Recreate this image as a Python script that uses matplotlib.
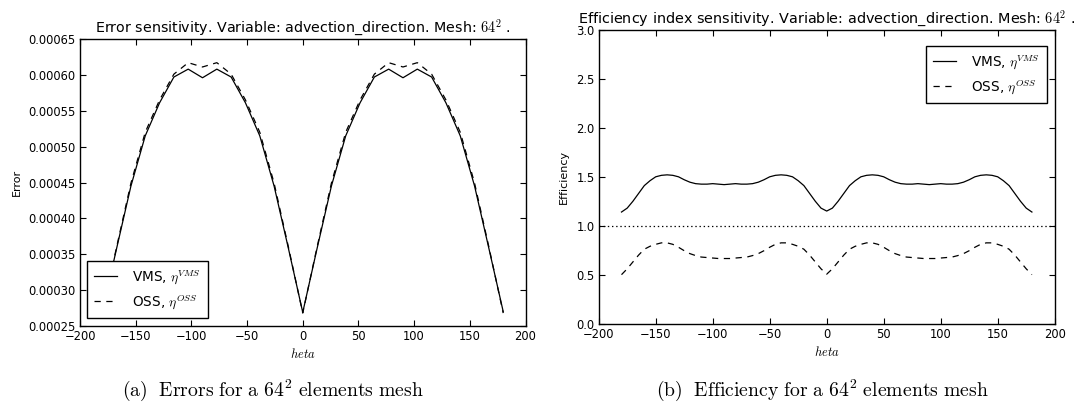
import matplotlib
matplotlib.use("Agg")
import matplotlib.pyplot as plt
from matplotlib.ticker import FormatStrFormatter, MultipleLocator

plt.rcParams['font.family'] = ['DejaVu Sans']
plt.rcParams['mathtext.fontset'] = 'cm'
plt.rcParams['lines.scale_dashes'] = False

# ---------------- data ----------------
# Error plot: 29 angles, step 360/28 degrees
theta_err = [-180.0 + k * 360.0 / 28.0 for k in range(29)]
err_vms = [0.000270, 0.000358, 0.000445, 0.000515, 0.000561, 0.000597, 0.000608, 0.000596,
           0.000608, 0.000597, 0.000561, 0.000515, 0.000445, 0.000358, 0.000269,
           0.000358, 0.000445, 0.000515, 0.000561, 0.000597, 0.000608, 0.000596,
           0.000608, 0.000597, 0.000561, 0.000515, 0.000445, 0.000358, 0.000270]
err_oss = [0.000268, 0.000360, 0.000449, 0.000520, 0.000565, 0.000601, 0.000617, 0.000611,
           0.000617, 0.000601, 0.000565, 0.000520, 0.000449, 0.000360, 0.000268,
           0.000360, 0.000449, 0.000520, 0.000565, 0.000601, 0.000617, 0.000611,
           0.000617, 0.000601, 0.000565, 0.000520, 0.000449, 0.000360, 0.000268]

# Efficiency plot: angles every 5 degrees
theta_eff = list(range(-180, 181, 5))
eff_vms = [1.14, 1.18, 1.25, 1.33, 1.41, 1.46, 1.50, 1.515, 1.52, 1.515, 1.50, 1.47, 1.445, 1.43,
           1.425, 1.425, 1.43, 1.425, 1.42, 1.425, 1.43, 1.425, 1.425, 1.43, 1.445, 1.47, 1.50,
           1.515, 1.52, 1.515, 1.50, 1.46, 1.41, 1.33, 1.25, 1.18, 1.15,
           1.18, 1.25, 1.33, 1.41, 1.46, 1.50, 1.515, 1.52, 1.515, 1.50, 1.47, 1.445, 1.43,
           1.425, 1.425, 1.43, 1.425, 1.42, 1.425, 1.43, 1.425, 1.425, 1.43, 1.445, 1.47, 1.50,
           1.515, 1.52, 1.515, 1.50, 1.46, 1.41, 1.33, 1.25, 1.18, 1.14]
eff_oss = [0.50, 0.56, 0.63, 0.70, 0.76, 0.79, 0.81, 0.825, 0.825, 0.81, 0.78, 0.745, 0.715, 0.695,
           0.68, 0.675, 0.67, 0.665, 0.665, 0.665, 0.67, 0.675, 0.68, 0.695, 0.715, 0.745, 0.78,
           0.81, 0.825, 0.825, 0.81, 0.79, 0.76, 0.70, 0.63, 0.56, 0.505,
           0.56, 0.63, 0.70, 0.76, 0.79, 0.81, 0.825, 0.825, 0.81, 0.78, 0.745, 0.715, 0.695,
           0.68, 0.675, 0.67, 0.665, 0.665, 0.665, 0.67, 0.675, 0.68, 0.695, 0.715, 0.745, 0.78,
           0.81, 0.825, 0.825, 0.81, 0.79, 0.76, 0.70, 0.63, 0.56, 0.50]

labels = [r'VMS, $\eta^{VMS}$', r'OSS, $\eta^{OSS}$']
err_title = r'Error sensitivity. Variable: advection_direction. Mesh: $64^2$ .'
eff_title = r'Efficiency index sensitivity. Variable: advection_direction. Mesh: $64^2$ .'
caption_a = r'$\mathrm{(a)\ \ Errors\ for\ a\ 64^2\ elements\ mesh}$'
caption_b = r'$\mathrm{(b)\ \ Efficiency\ for\ a\ 64^2\ elements\ mesh}$'

# ---------------- figure ----------------
W, H = 1081, 404
fig = plt.figure(figsize=(W / 100, H / 100), dpi=100)

def px_axes(l, t, r, b):
    return fig.add_axes([l / W, (H - b) / H, (r - l) / W, (b - t) / H])

TICK_FS = 8.3
LEG_FS = 9.8
DASH = (4.5, 4.0)

def style(ax):
    ax.tick_params(direction='in', top=True, right=True, length=4, width=0.8,
                   labelsize=TICK_FS, pad=3)
    for s in ax.spines.values():
        s.set_linewidth(1.0)
    ax.xaxis.set_major_locator(MultipleLocator(50))
    ax.set_xlim(-200, 200)

def legend_px(ax, loc, anchor):
    leg = ax.legend(loc=loc, bbox_to_anchor=anchor, fontsize=LEG_FS, frameon=True,
                    fancybox=False, framealpha=1, edgecolor='black', handlelength=1.7,
                    handletextpad=1.1, labelspacing=0.55, borderpad=0.5, borderaxespad=0)
    leg.get_frame().set_linewidth(1.0)
    return leg

# Left: error  (axes box in pixels)
L1, T1, R1, B1 = 80, 39, 525.5, 326
ax1 = px_axes(L1, T1, R1, B1)
ax1.plot(theta_err, err_vms, color='black', lw=0.9, label=labels[0])
ax1.plot(theta_err, err_oss, color='black', lw=0.9, dashes=DASH, label=labels[1])
ax1.set_ylim(0.00025, 0.00065)
ax1.yaxis.set_major_locator(MultipleLocator(0.00005))
ax1.yaxis.set_major_formatter(FormatStrFormatter('%.5f'))
style(ax1)
t1 = ax1.set_title(err_title, fontsize=10.4, pad=4.5)
ax1.set_xlabel(r'$heta$', fontsize=9, labelpad=3)
ax1.set_ylabel('Error', fontsize=8, labelpad=5)
legend_px(ax1, 'lower left', (7 / (R1 - L1), 8 / (B1 - T1)))

# Right: efficiency (axes box in pixels)
L2, T2, R2, B2 = 598.7, 30, 1054.7, 323.6
ax2 = px_axes(L2, T2, R2, B2)
ax2.plot(theta_eff, eff_vms, color='black', lw=0.9, label=labels[0])
ax2.plot(theta_eff, eff_oss, color='black', lw=0.9, dashes=DASH, label=labels[1])
ax2.axhline(1.0, color='black', lw=0.9, dashes=(1.0, 2.0))
ax2.set_ylim(0.0, 3.0)
ax2.yaxis.set_major_locator(MultipleLocator(0.5))
ax2.yaxis.set_major_formatter(FormatStrFormatter('%.1f'))
style(ax2)
t2 = ax2.set_title(eff_title, fontsize=10.4, pad=4.5)
ax2.set_xlabel(r'$heta$', fontsize=9, labelpad=3)
ax2.set_ylabel('Efficiency', fontsize=8, labelpad=5)
legend_px(ax2, 'upper right', (1 - 8 / (R2 - L2), 1 - 16 / (B2 - T2)))

# Captions
c1 = fig.text(273 / W, 1 - 390 / H, caption_a, ha='center', va='center', fontsize=14.2)
c2 = fig.text(822 / W, 1 - 390 / H, caption_b, ha='center', va='center', fontsize=14.2)

# scale title font sizes so their widths match the reference
fig.canvas.draw()
rend = fig.canvas.get_renderer()
for txt, target in [(t1, 415.0), (t2, 495.0)]:
    w = txt.get_window_extent(rend).width
    txt.set_fontsize(txt.get_fontsize() * target / w)

fig.savefig('out.png', dpi=100, facecolor='white')
